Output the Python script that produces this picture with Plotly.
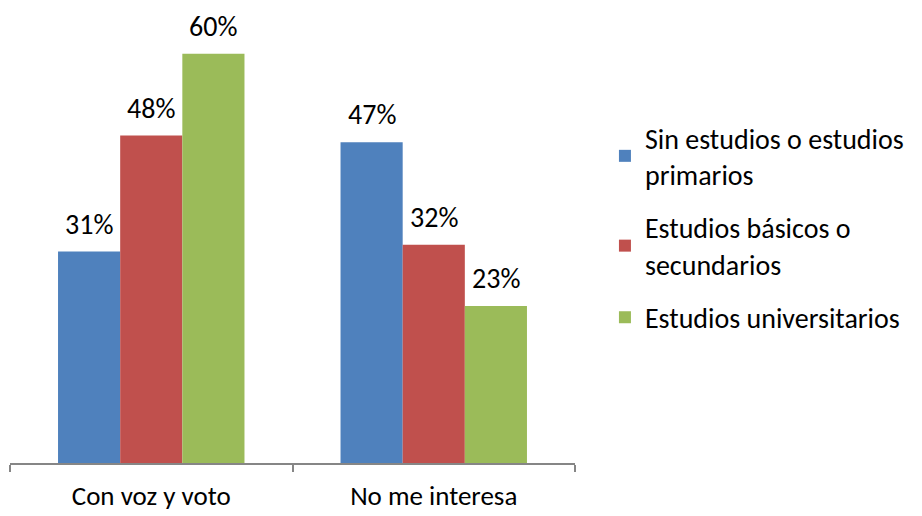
import plotly.graph_objects as go

categories = ["Con voz y voto", "No me interesa"]
series_names = ["Sin estudios o estudios<br>primarios",
                "Estudios básicos o<br>secundarios",
                "Estudios universitarios"]
values = [
    [31, 47],
    [48, 32],
    [60, 23],
]
colors = ["#4F81BD", "#C0504D", "#9BBB59"]

FONT = "Carlito, Lato, sans-serif"
FS = 28
bargap = 0.34
bw = (1 - bargap) / len(series_names)

fig = go.Figure()
annotations = []
for i, (name, vals, col) in enumerate(zip(series_names, values, colors)):
    fig.add_trace(go.Bar(
        x=categories, y=vals, name=name, legendgroup=f"g{i}",
        marker=dict(color=col, line=dict(width=0)),
    ))
    for j, v in enumerate(vals):
        annotations.append(dict(
            x=j + (i - (len(series_names) - 1) / 2) * bw, y=v,
            xref="x", yref="y", text=f"{v}%", showarrow=False,
            yanchor="bottom", yshift=8,
            font=dict(family=FONT, size=FS, color="#000000"),
        ))

fig.update_layout(
    width=922, height=516,
    margin=dict(l=10, r=347, t=10, b=53),
    paper_bgcolor="white", plot_bgcolor="white",
    barmode="group", bargap=bargap, bargroupgap=0,
    font=dict(family=FONT, size=FS, color="#000000"),
    annotations=annotations,
    legend=dict(x=1.053, xanchor="left", y=0.52, yanchor="middle",
                font=dict(family=FONT, size=FS, color="#000000"),
                itemwidth=30, tracegroupgap=14, traceorder="grouped"),
    xaxis=dict(
        type="category", categoryorder="array", categoryarray=categories,
        range=[-0.5, len(categories) - 0.5], automargin=False,
        showline=True, linecolor="#868686", linewidth=2,
        ticks="outside", tickson="boundaries", ticklen=7, tickcolor="#868686", tickwidth=2,
        showgrid=False, zeroline=False, ticklabelstandoff=8,
        tickfont=dict(family=FONT, size=FS - 1, color="#000000"),
    ),
    yaxis=dict(range=[0, 66.4], visible=False, showgrid=False, zeroline=False,
               automargin=False),
)

fig.write_html("out.html")
